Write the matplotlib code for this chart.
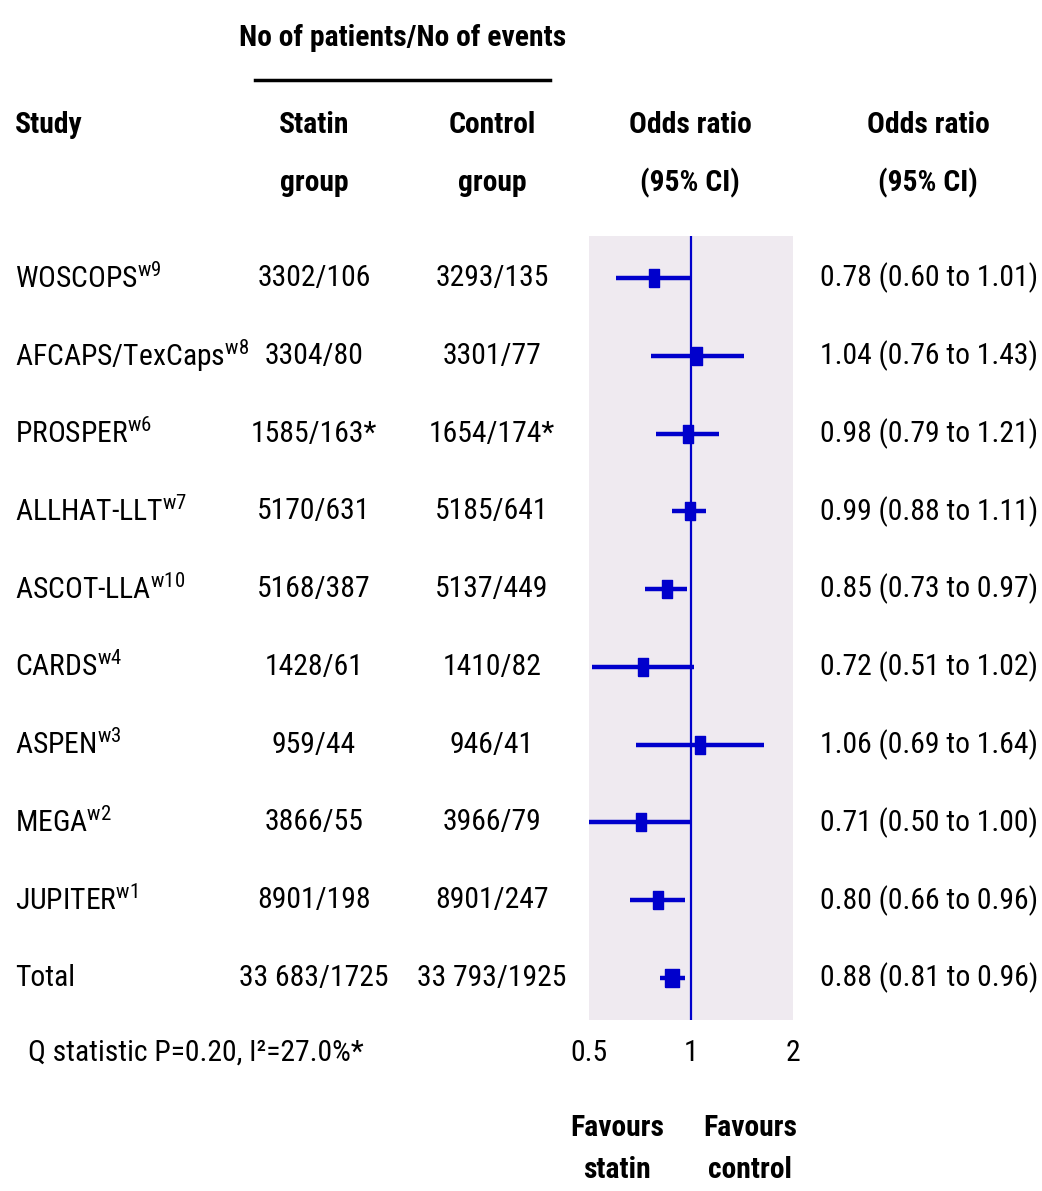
import numpy as np
import matplotlib
matplotlib.use("Agg")
import matplotlib.pyplot as plt
from matplotlib import font_manager
from matplotlib.transforms import blended_transform_factory

# pick the narrowest family that is installed
names = sorted({f.name for f in font_manager.fontManager.ttflist})
cands = ["Liberation Sans Narrow", "Roboto Condensed", "DejaVu Sans Condensed",
         "Open Sans Condensed", "Noto Sans Condensed", "Liberation Sans"]
family = next((c for c in cands if c in names), "DejaVu Sans")

plt.rcParams['font.family'] = [family, 'DejaVu Sans']
plt.rcParams['mathtext.fontset'] = 'custom'
plt.rcParams['mathtext.rm'] = family
plt.rcParams['mathtext.it'] = family

# data
studies = ["WOSCOPS", "AFCAPS/TexCaps", "PROSPER", "ALLHAT-LLT", "ASCOT-LLA",
           "CARDS", "ASPEN", "MEGA", "JUPITER", "Total"]
refs = ["w9", "w8", "w6", "w7", "w10", "w4", "w3", "w2", "w1", ""]
statin = ["3302/106", "3304/80", "1585/163*", "5170/631", "5168/387",
          "1428/61", "959/44", "3866/55", "8901/198", "33 683/1725"]
control = ["3293/135", "3301/77", "1654/174*", "5185/641", "5137/449",
           "1410/82", "946/41", "3966/79", "8901/247", "33 793/1925"]
odds = [0.78, 1.04, 0.98, 0.99, 0.85, 0.72, 1.06, 0.71, 0.80, 0.88]
lower = [0.60, 0.76, 0.79, 0.88, 0.73, 0.51, 0.69, 0.50, 0.66, 0.81]
upper = [1.01, 1.43, 1.21, 1.11, 0.97, 1.02, 1.64, 1.00, 0.96, 0.96]
xticks = [0.5, 1, 2]
xticklabels = ["0.5", "1", "2"]

W, H = 1042, 1191
blue = "#0000CC"

fig = plt.figure(figsize=(W / 100, H / 100), dpi=100)

# size the text so that a CI string is about as wide as in the reference
probe = fig.text(0, 0, "0.78 (0.60 to 1.01)", fontsize=20)
wpx = probe.get_window_extent(fig.canvas.get_renderer()).width
probe.remove()
fs = min(24, 20 * 218 / wpx)

def fx(px):
    return px / W

def fy(py):
    return 1 - py / H

ax = fig.add_axes([fx(589), fy(1020), fx(793) - fx(589), fy(236) - fy(1020)])
ax.set_facecolor("#EFEAF0")
ax.set_xscale("log")
ax.set_xlim(0.5, 2)
n = len(studies)
ax.set_ylim(n - 1 + 0.54, -0.54)
for s in ax.spines.values():
    s.set_visible(False)
ax.set_yticks([])
ax.xaxis.set_minor_locator(matplotlib.ticker.NullLocator())
ax.set_xticks(xticks)
ax.set_xticklabels(xticklabels, fontsize=fs)
ax.tick_params(axis="x", length=0, pad=14)

ax.axvline(1, color=blue, lw=1.6, zorder=2)

rows = np.arange(n)
ax.hlines(rows, lower, upper, color=blue, lw=3.2, zorder=3)
rect = [(-0.55, -1), (0.55, -1), (0.55, 1), (-0.55, 1), (-0.55, -1)]
ax.plot(odds[:-1], rows[:-1], ls="none", marker=rect, ms=12.5, color=blue, zorder=4)
rect_total = [(-0.75, -1), (0.75, -1), (0.75, 1), (-0.75, 1), (-0.75, -1)]
ax.plot(odds[-1:], rows[-1:], ls="none", marker=rect_total, ms=12.5, color=blue, zorder=4)

tr = blended_transform_factory(fig.transFigure, ax.transData)
for i in range(n):
    label = studies[i]
    if refs[i]:
        label += r"$^{\mathrm{" + refs[i] + "}}$"
    fig.text(fx(15), i, label, transform=tr, fontsize=fs, ha="left", va="center")
    fig.text(fx(314), i, statin[i], transform=tr, fontsize=fs, ha="center", va="center")
    fig.text(fx(492), i, control[i], transform=tr, fontsize=fs, ha="center", va="center")
    ci = "%.2f (%.2f to %.2f)" % (odds[i], lower[i], upper[i])
    fig.text(fx(820), i, ci, transform=tr, fontsize=fs, ha="left", va="center")

# headers
fig.text(fx(403), fy(38), "No of patients/No of events", fontsize=fs, fontweight="bold",
         ha="center", va="center")
fig.add_artist(plt.Line2D([fx(255), fx(550)], [fy(80), fy(80)], color="black", lw=2.5))
fig.text(fx(15), fy(125), "Study", fontsize=fs, fontweight="bold", ha="left", va="center")
headers = [(314, ["Statin", "group"]), (492, ["Control", "group"]),
           (690, ["Odds ratio", "(95% CI)"]), (928, ["Odds ratio", "(95% CI)"])]
for px, lines in headers:
    for k, t in enumerate(lines):
        fig.text(fx(px), fy(125 + 58 * k), t, fontsize=fs, fontweight="bold",
                 ha="center", va="center")

fig.text(fx(28), fy(1053), "Q statistic P=0.20, I²=27.0%*", fontsize=fs, ha="left", va="center")
for px, lines in [(617, ["Favours", "statin"]), (750, ["Favours", "control"])]:
    for k, t in enumerate(lines):
        fig.text(fx(px), fy(1128 + 42 * k), t, fontsize=fs, fontweight="bold",
                 ha="center", va="center")

fig.savefig("out.png", dpi=100, facecolor="white")
